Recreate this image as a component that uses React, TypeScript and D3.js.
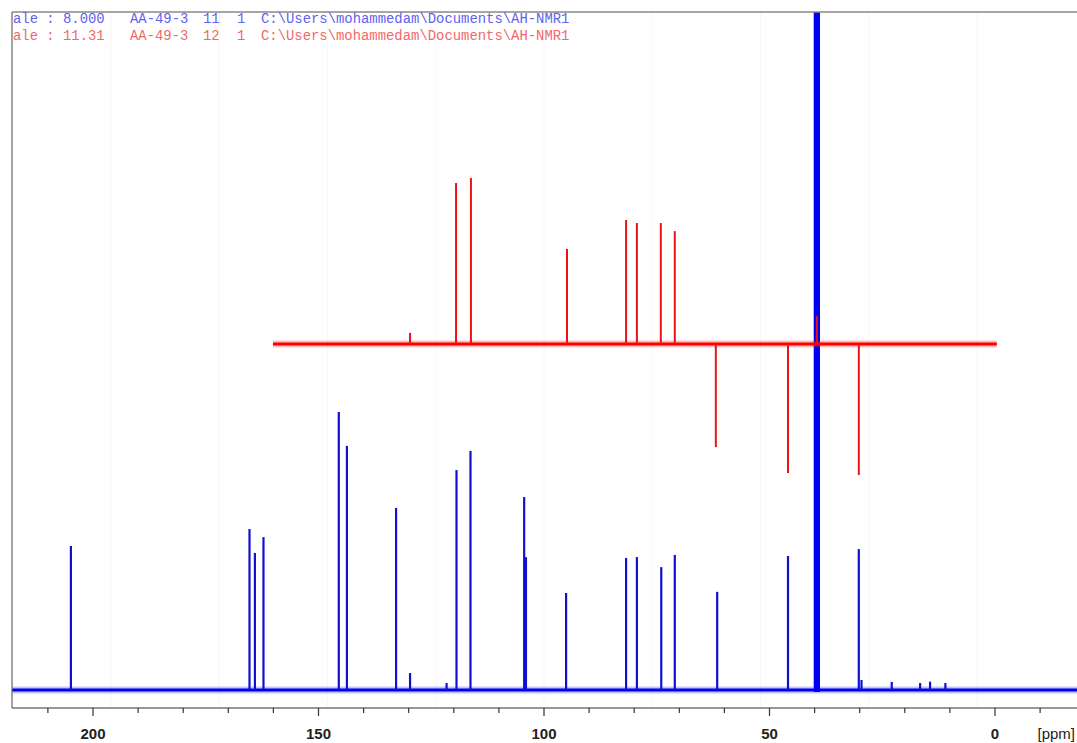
import React, { useEffect, useRef } from 'react';
import * as d3 from 'd3';

// 13C spectrum (blue) - chemical shifts in ppm and relative heights
const blueShifts = [204.9, 165.3, 164.1, 162.2, 145.5, 143.7, 132.8, 129.7, 121.6, 119.4, 116.3, 104.4, 104.0, 95.1, 81.8, 79.4, 74.0, 71.0, 61.6, 45.9, 30.2, 29.6, 22.9, 16.6, 14.4, 11.0];
const blueHeights = [51.8, 57.9, 49.3, 55.0, 100, 87.8, 65.5, 6.1, 2.5, 79.1, 86.0, 69.4, 47.8, 34.9, 47.5, 47.8, 44.2, 48.6, 35.3, 48.2, 50.7, 3.6, 2.9, 2.5, 3.0, 2.5];

// DMSO-d6 solvent multiplet (off scale)
const solventShifts = [40.0, 39.8, 39.6, 39.4, 39.2, 39.0];
const solventHeights = [250, 300, 300, 300, 300, 250];

// DEPT-135 spectrum (red)
const redShifts = [129.7, 119.5, 116.2, 94.9, 81.8, 79.4, 74.1, 71.0, 61.9, 45.9, 39.5, 30.2];
const redHeights = [4.0, 57.9, 59.7, 34.2, 44.6, 43.5, 43.5, 40.6, -37.1, -46.4, 10.1, -47.1];

const majorTicks = [200, 150, 100, 50, 0];
const minorTicks = [210, 190, 180, 170, 160, 140, 130, 120, 110, 90, 80, 70, 60, 40, 30, 20, 10, -10];
const gridShifts = [196, 172, 148, 124, 100, 76, 52, 28, 4];

// header fields: scale, sample, expno, procno, path
const headerBlue = ['ale : 8.000', 'AA-49-3', '11', '1', 'C:\\Users\\mohammedam\\Documents\\AH-NMR1'];
const headerRed = ['ale : 11.31', 'AA-49-3', '12', '1', 'C:\\Users\\mohammedam\\Documents\\AH-NMR1'];
const headerCols = [13, 130, 203, 237, 261];

const W = 1077;
const H = 743;

export default function App() {
  const svgRef = useRef<SVGSVGElement>(null);

  useEffect(() => {
    const svg = d3.select(svgRef.current);
    svg.selectAll('*').remove();

    const left = 12, top = 12, bottom = 708, right = W;

    const x = d3.scaleLinear().domain([200, 0]).range([93, 995]);
    const yBlue = d3.scaleLinear().domain([0, 100]).range([690, 412]);
    const yRed = d3.scaleLinear().domain([0, 100]).range([344, 66]);

    svg.append('rect').attr('width', W).attr('height', H).attr('fill', '#fff');

    svg.append('defs').append('clipPath').attr('id', 'plotClip')
      .append('rect')
      .attr('x', left).attr('y', top)
      .attr('width', right - left).attr('height', bottom - top);

    // faint vertical grid
    svg.append('g').selectAll('line')
      .data(gridShifts)
      .enter().append('line')
      .attr('x1', d => x(d)).attr('x2', d => x(d))
      .attr('y1', top).attr('y2', bottom)
      .attr('stroke', '#f6f6f6')
      .attr('stroke-width', 1);

    const plot = svg.append('g').attr('clip-path', 'url(#plotClip)');
    const [xMin, xMax] = [x.invert(left), x.invert(right)];

    // blue baseline (noise band)
    const baseLine = d3.line<number>().x(d => x(d)).y(() => yBlue(0));
    plot.append('path').datum([xMin, xMax])
      .attr('d', baseLine).attr('stroke', '#3a3aff').attr('stroke-width', 7)
      .attr('stroke-opacity', 0.3).attr('fill', 'none');
    plot.append('path').datum([xMin, xMax])
      .attr('d', baseLine).attr('stroke', '#0000ee').attr('stroke-width', 3)
      .attr('fill', 'none');

    const blue = blueShifts.map((s, i) => ({ s, h: blueHeights[i] }));
    plot.selectAll('.blue-peak')
      .data(blue)
      .enter().append('line')
      .attr('class', 'blue-peak')
      .attr('x1', d => x(d.s)).attr('x2', d => x(d.s))
      .attr('y1', yBlue(0)).attr('y2', d => yBlue(d.h))
      .attr('stroke', '#1010d0')
      .attr('stroke-width', 2.2);

    const solvent = solventShifts.map((s, i) => ({ s, h: solventHeights[i] }));
    plot.selectAll('.solvent-peak')
      .data(solvent)
      .enter().append('line')
      .attr('class', 'solvent-peak')
      .attr('x1', d => x(d.s)).attr('x2', d => x(d.s))
      .attr('y1', yBlue(0) + 2).attr('y2', d => yBlue(d.h))
      .attr('stroke', '#0000f0')
      .attr('stroke-width', 1.8);

    // red spectrum
    const redLine = d3.line<number>().x(d => x(d)).y(() => yRed(0));
    const redRange = [160.1, -0.4];
    plot.append('path').datum(redRange)
      .attr('d', redLine).attr('stroke', '#ff2020').attr('stroke-width', 7)
      .attr('stroke-opacity', 0.3).attr('fill', 'none');
    plot.append('path').datum(redRange)
      .attr('d', redLine).attr('stroke', '#ff0000').attr('stroke-width', 3)
      .attr('fill', 'none');

    const red = redShifts.map((s, i) => ({ s, h: redHeights[i] }));
    plot.selectAll('.red-peak')
      .data(red)
      .enter().append('line')
      .attr('class', 'red-peak')
      .attr('x1', d => x(d.s)).attr('x2', d => x(d.s))
      .attr('y1', yRed(0)).attr('y2', d => yRed(d.h))
      .attr('stroke', '#e61414')
      .attr('stroke-width', 2);

    // frame
    svg.append('line')
      .attr('x1', left).attr('x2', right).attr('y1', top).attr('y2', top)
      .attr('stroke', '#888').attr('stroke-width', 1.5);
    svg.append('line')
      .attr('x1', left).attr('x2', left).attr('y1', top).attr('y2', bottom)
      .attr('stroke', '#666').attr('stroke-width', 1.2);

    // x axis
    const axis = svg.append('g');
    axis.append('line')
      .attr('x1', left).attr('x2', right).attr('y1', bottom).attr('y2', bottom)
      .attr('stroke', '#333').attr('stroke-width', 1.2);
    axis.selectAll('.minor')
      .data(minorTicks)
      .enter().append('line')
      .attr('x1', d => x(d)).attr('x2', d => x(d))
      .attr('y1', bottom).attr('y2', bottom + 5)
      .attr('stroke', '#333').attr('stroke-width', 1.2);
    axis.selectAll('.major')
      .data(majorTicks)
      .enter().append('line')
      .attr('x1', d => x(d)).attr('x2', d => x(d))
      .attr('y1', bottom).attr('y2', bottom + 8)
      .attr('stroke', '#333').attr('stroke-width', 1.2);
    axis.selectAll('.tick-label')
      .data(majorTicks)
      .enter().append('text')
      .attr('x', d => x(d)).attr('y', 739)
      .attr('text-anchor', 'middle')
      .style('font-family', '"Liberation Sans", Arial, sans-serif')
      .style('font-size', '15px')
      .style('font-weight', 'bold')
      .style('fill', '#222')
      .text(d => d);
    axis.append('text')
      .attr('x', 1075).attr('y', 739)
      .attr('text-anchor', 'end')
      .style('font-family', '"Liberation Sans", Arial, sans-serif')
      .style('font-size', '15px')
      .style('fill', '#222')
      .text('[ppm]');

    // header lines
    const header = svg.append('g')
      .style('font-family', '"Liberation Mono", "DejaVu Sans Mono", monospace')
      .style('font-size', '13.9px');
    header.selectAll('.hb')
      .data(headerBlue)
      .enter().append('text')
      .attr('x', (_, i) => headerCols[i]).attr('y', 23)
      .style('fill', '#6262ee')
      .text(d => d);
    header.selectAll('.hr')
      .data(headerRed)
      .enter().append('text')
      .attr('x', (_, i) => headerCols[i]).attr('y', 40)
      .style('fill', '#f26868')
      .text(d => d);
  }, []);

  return (
    <svg
      ref={svgRef}
      width={W}
      height={H}
      style={{ position: 'absolute', left: 0, top: 0, display: 'block' }}
    />
  );
}
